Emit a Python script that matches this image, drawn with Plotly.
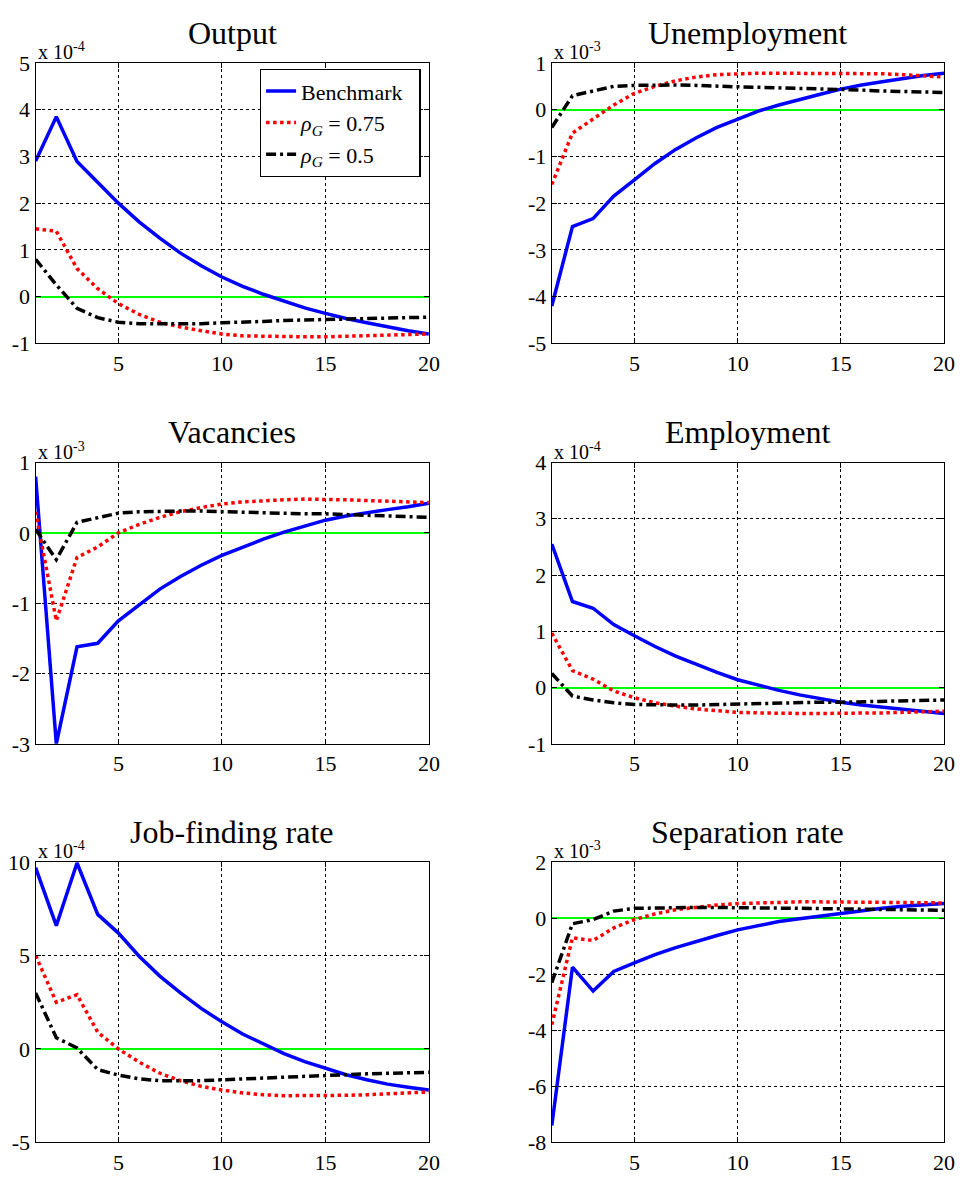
import plotly.graph_objects as go

periods = list(range(1, 21))
x_ticks = [5, 10, 15, 20]

titles = ["Output", "Unemployment", "Vacancies", "Employment",
          "Job-finding rate", "Separation rate"]
exponents = ["-4", "-3", "-3", "-4", "-4", "-3"]
y_ticks = [
    [-1, 0, 1, 2, 3, 4, 5],
    [-5, -4, -3, -2, -1, 0, 1],
    [-3, -2, -1, 0, 1],
    [-1, 0, 1, 2, 3, 4],
    [-5, 0, 5, 10],
    [-8, -6, -4, -2, 0, 2],
]

series_names = ["Benchmark", "<i>ρ</i><sub><i>G</i></sub> = 0.75",
                "<i>ρ</i><sub><i>G</i></sub> = 0.5"]

# values in units of the panel's 10^exponent
output_bench = [2.9, 3.85, 2.89, 2.45, 2.0, 1.6, 1.25, 0.93, 0.66, 0.42,
                0.22, 0.05, -0.1, -0.24, -0.36, -0.47, -0.56, -0.65, -0.73, -0.8]
output_r75 = [1.45, 1.4, 0.6, 0.17, -0.15, -0.38, -0.55, -0.65, -0.73, -0.8,
              -0.84, -0.85, -0.86, -0.86, -0.86, -0.85, -0.84, -0.83, -0.82, -0.8]
output_r50 = [0.8, 0.25, -0.25, -0.45, -0.55, -0.58, -0.58, -0.58, -0.58, -0.56,
              -0.55, -0.53, -0.51, -0.5, -0.49, -0.48, -0.47, -0.46, -0.45, -0.44]

unemp_bench = [-4.2, -2.5, -2.33, -1.85, -1.5, -1.15, -0.85, -0.6, -0.38, -0.2,
               -0.03, 0.1, 0.22, 0.33, 0.44, 0.53, 0.6, 0.67, 0.73, 0.78]
unemp_r75 = [-1.6, -0.5, -0.2, 0.1, 0.35, 0.5, 0.62, 0.7, 0.75, 0.77,
             0.78, 0.78, 0.78, 0.78, 0.78, 0.78, 0.77, 0.75, 0.73, 0.7]
unemp_r50 = [-0.38, 0.3, 0.4, 0.5, 0.52, 0.53, 0.53, 0.52, 0.5, 0.49,
             0.48, 0.47, 0.45, 0.44, 0.43, 0.42, 0.4, 0.39, 0.38, 0.37]

vac_bench = [0.8, -3.0, -1.62, -1.57, -1.25, -1.02, -0.8, -0.62, -0.46, -0.32,
             -0.2, -0.09, 0.01, 0.1, 0.18, 0.24, 0.29, 0.33, 0.37, 0.42]
vac_r75 = [0.3, -1.25, -0.35, -0.2, 0.0, 0.12, 0.22, 0.3, 0.36, 0.41,
           0.44, 0.46, 0.47, 0.48, 0.48, 0.47, 0.46, 0.45, 0.44, 0.43]
vac_r50 = [0.05, -0.38, 0.15, 0.22, 0.28, 0.3, 0.31, 0.31, 0.31, 0.3,
           0.29, 0.28, 0.28, 0.27, 0.27, 0.26, 0.25, 0.24, 0.23, 0.22]

emp_bench = [2.55, 1.53, 1.41, 1.12, 0.92, 0.73, 0.56, 0.41, 0.27, 0.14,
             0.04, -0.05, -0.13, -0.2, -0.26, -0.31, -0.35, -0.39, -0.43, -0.46]
emp_r75 = [0.97, 0.3, 0.15, -0.06, -0.18, -0.27, -0.33, -0.38, -0.41, -0.44,
           -0.45, -0.46, -0.46, -0.46, -0.46, -0.46, -0.45, -0.44, -0.43, -0.42]
emp_r50 = [0.25, -0.15, -0.22, -0.27, -0.3, -0.31, -0.31, -0.31, -0.3, -0.29,
           -0.29, -0.28, -0.27, -0.26, -0.26, -0.25, -0.24, -0.23, -0.23, -0.22]

jf_bench = [9.7, 6.6, 9.95, 7.2, 6.2, 4.96, 3.9, 3.0, 2.17, 1.45,
            0.8, 0.25, -0.25, -0.68, -1.05, -1.38, -1.65, -1.88, -2.05, -2.2]
jf_r75 = [5.0, 2.5, 2.9, 0.9, 0.0, -0.7, -1.3, -1.7, -2.0, -2.2,
          -2.35, -2.45, -2.5, -2.5, -2.5, -2.48, -2.45, -2.4, -2.35, -2.3]
jf_r50 = [3.0, 0.6, 0.05, -1.1, -1.4, -1.6, -1.7, -1.72, -1.7, -1.65,
          -1.6, -1.55, -1.5, -1.45, -1.4, -1.37, -1.33, -1.3, -1.27, -1.25]

sep_bench = [-7.4, -1.75, -2.6, -1.9, -1.6, -1.3, -1.05, -0.82, -0.62, -0.42,
             -0.28, -0.12, -0.02, 0.08, 0.18, 0.27, 0.35, 0.42, 0.48, 0.52]
sep_r75 = [-3.8, -0.7, -0.8, -0.35, -0.05, 0.15, 0.3, 0.4, 0.47, 0.52,
           0.55, 0.57, 0.58, 0.58, 0.58, 0.58, 0.57, 0.56, 0.55, 0.54]
sep_r50 = [-2.3, -0.2, -0.05, 0.25, 0.35, 0.37, 0.38, 0.38, 0.38, 0.38,
           0.37, 0.36, 0.35, 0.34, 0.33, 0.32, 0.31, 0.3, 0.29, 0.28]

panels = [
    (output_bench, output_r75, output_r50),
    (unemp_bench, unemp_r75, unemp_r50),
    (vac_bench, vac_r75, vac_r50),
    (emp_bench, emp_r75, emp_r50),
    (jf_bench, jf_r75, jf_r50),
    (sep_bench, sep_r75, sep_r50),
]

# the page body adds an 8px margin on every side; size the figure so the
# page exactly fills the 969x1183 window and shift positions accordingly
OFF = 8
W, H = 969 - 2 * OFF, 1183 - 2 * OFF
col_px = [(31, 431), (556, 955)]
row_px = [(52, 339), (461, 749), (870, 1157)]

line_styles = [
    dict(color="#0000ff", width=3.5),
    dict(color="#ff0000", width=3.5, dash="dot"),
    dict(color="#000000", width=3.5, dash="10px,4px,3px,4px"),
]

FONT = "Liberation Serif, Times New Roman, serif"

fig = go.Figure()
annotations = []

for i, (title, data) in enumerate(zip(titles, panels)):
    r, c = divmod(i, 2)
    x0, x1 = col_px[c]
    top, bot = row_px[r]
    xd = [(x0 - OFF) / W, (x1 - OFF) / W]
    yd = [1 - (bot - OFF) / H, 1 - (top - OFF) / H]
    ax = "" if i == 0 else str(i + 1)
    xa, ya = "x" + ax, "y" + ax

    for k, (vals, st) in enumerate(zip(data, line_styles)):
        fig.add_trace(go.Scatter(
            x=periods, y=vals, mode="lines", line=st,
            name=series_names[k] + "&nbsp;&nbsp;", showlegend=(i == 0),
            xaxis=xa, yaxis=ya, cliponaxis=True))

    yt = y_ticks[i]
    common = dict(showline=True, linecolor="black", linewidth=1.3,
                  mirror="ticks", ticks="inside", ticklen=5, tickcolor="black",
                  showgrid=True, gridcolor="black", gridwidth=0.7,
                  griddash="3px,3px",
                  tickfont=dict(family=FONT, size=22, color="black"))
    fig.layout["xaxis" + ax] = dict(domain=xd, anchor=ya, range=[1, 20],
                                    tickvals=x_ticks,
                                    ticktext=[str(v) for v in x_ticks],
                                    zeroline=False, **common)
    fig.layout["yaxis" + ax] = dict(domain=yd, anchor=xa,
                                    range=[yt[0], yt[-1]],
                                    tickvals=yt,
                                    ticktext=[str(v) for v in yt],
                                    zeroline=True, zerolinecolor="#00ff00",
                                    zerolinewidth=2, **common)

    annotations.append(dict(text=title, xref="paper", yref="paper",
                            x=(xd[0] + xd[1]) / 2, y=yd[1] + 31 / H,
                            xanchor="center", yanchor="middle", showarrow=False,
                            font=dict(family=FONT, size=32, color="black")))
    annotations.append(dict(text="x 10<sup>" + exponents[i] + "</sup>",
                            xref="paper", yref="paper",
                            x=xd[0], y=yd[1] + 12 / H,
                            xanchor="left", yanchor="middle", showarrow=False,
                            font=dict(family=FONT, size=20, color="black")))

fig.update_layout(
    width=W, height=H,
    margin=dict(l=0, r=0, t=0, b=0),
    paper_bgcolor="white", plot_bgcolor="white",
    annotations=annotations,
    legend=dict(x=(259 - OFF) / W, y=1 - (58 - OFF) / H,
                xanchor="left", yanchor="top",
                bgcolor="white", bordercolor="black", borderwidth=1.3,
                font=dict(family=FONT, size=22, color="black"),
                tracegroupgap=0),
)

fig.write_html("out.html")
